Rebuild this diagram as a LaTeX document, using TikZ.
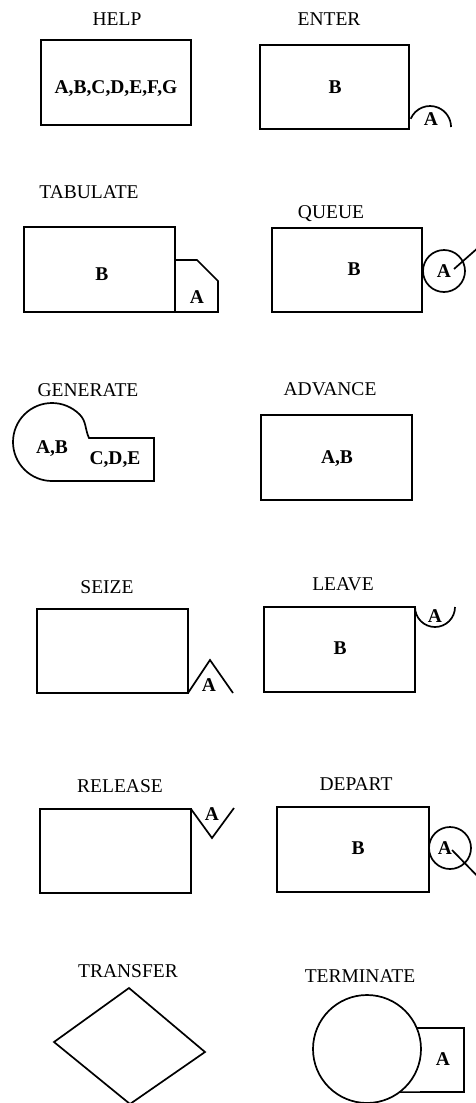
\documentclass[tikz,border=0pt]{standalone}
\usepackage{fontspec}
\setmainfont{Liberation Serif}
\begin{document}
\begin{tikzpicture}[x=1pt,y=1pt,
  lbl/.style={font=\fontsize{19.5}{21}\selectfont, inner sep=0pt, text height=12pt, text depth=0pt},
  txt/.style={font=\bfseries\fontsize{19.5}{21}\selectfont, inner sep=0pt, text height=12pt, text depth=0pt},
  blk/.style={draw, line width=1.7pt, rectangle, inner sep=0pt, outer sep=0pt},
  ring/.style={draw, line width=1.7pt, circle, inner sep=0pt, outer sep=0pt},
  ln/.style={line width=1.7pt, line join=miter}]
\useasboundingbox (0,0) rectangle (476,-1103);

% HELP
\node[lbl] (helpL) at (117,-19) {HELP};
\node[blk, minimum width=150pt, minimum height=85pt] (help) at (116,-82.5) {};
\node[txt] (helpT) at (116,-87) {A,B,C,D,E,F,G};

% ENTER
\node[lbl] (enterL) at (329,-19) {ENTER};
\node[blk, minimum width=149pt, minimum height=84pt] (enter) at (334.5,-87) {};
\node[txt] (enterT) at (335,-87) {B};
\coordinate (enterArc) at (410.7,-118.8);
\draw[ln] (enterArc) arc[start angle=157, end angle=0, radius=21];
\node[txt] (enterA) at (431,-119) {A};

% TABULATE
\node[lbl] (tabL) at (89,-192) {TABULATE};
\node[blk, minimum width=151pt, minimum height=85pt] (tab) at (99.5,-269.5) {};
\node[txt] (tabT) at (102,-274) {B};
\draw[ln] (175,-260) -- (197,-260) -- (218,-281) -- (218,-312) -- (175,-312);
\node[txt] (tabA) at (197,-297) {A};

% QUEUE
\node[lbl] (queueL) at (331,-212) {QUEUE};
\node[blk, minimum width=150pt, minimum height=84pt] (queue) at (347,-270) {};
\node[txt] (queueT) at (354,-269) {B};
\node[ring, minimum size=42pt] (queueC) at (444,-271) {};
\node[txt] (queueA) at (444,-271) {A};
\coordinate (queueS) at (454,-269);
\coordinate (queueE) at (488,-239);
\draw[ln] (queueS) -- (queueE);

% GENERATE
\node[lbl] (genL) at (88,-390) {GENERATE};
\draw[ln] (52,-481) arc[start angle=270, end angle=45, radius=39]
  to[out=-45, in=115] (89,-438) -- (154,-438) -- (154,-481) -- cycle;
\node[txt] (genT1) at (52,-447) {A,B};
\node[txt] (genT2) at (115,-458) {C,D,E};

% ADVANCE
\node[lbl] (advL) at (330,-389) {ADVANCE};
\node[blk, minimum width=151pt, minimum height=85pt] (adv) at (336.5,-457.5) {};
\node[txt] (advT) at (337,-457) {A,B};

% SEIZE
\node[lbl] (seizeL) at (107,-587) {SEIZE};
\node[blk, minimum width=151pt, minimum height=84pt] (seize) at (112.5,-651) {};
\draw[ln] (seize.south east) -- (210,-660) -- (233,-693);
\node[txt] (seizeA) at (209,-685) {A};

% LEAVE
\node[lbl] (leaveL) at (343,-584) {LEAVE};
\node[blk, minimum width=151pt, minimum height=85pt] (leave) at (339.5,-649.5) {};
\node[txt] (leaveT) at (340,-648) {B};
\draw[ln] (leave.north east) arc[start angle=180, end angle=360, radius=20];
\node[txt] (leaveA) at (435,-616) {A};

% RELEASE
\node[lbl] (relL) at (120,-786) {RELEASE};
\node[blk, minimum width=151pt, minimum height=84pt] (rel) at (115.5,-851) {};
\draw[ln] (rel.north east) -- (212,-838) -- (234,-808);
\node[txt] (relA) at (212,-814) {A};

% DEPART
\node[lbl] (depL) at (356,-784) {DEPART};
\node[blk, minimum width=152pt, minimum height=85pt] (dep) at (353,-849.5) {};
\node[txt] (depT) at (358,-848) {B};
\node[ring, minimum size=42pt] (depC) at (450,-848) {};
\node[txt] (depA) at (445,-848) {A};
\coordinate (depS) at (452,-850);
\coordinate (depE) at (488,-887);
\draw[ln] (depS) -- (depE);

% TRANSFER
\node[lbl] (trL) at (128,-971) {TRANSFER};
\draw[ln] (129,-988) -- (205,-1052) -- (130,-1104) -- (54,-1042) -- cycle;

% TERMINATE
\node[lbl] (termL) at (360,-976) {TERMINATE};
\node[ring, minimum size=108pt] (term) at (367,-1049) {};
\draw[ln] (term.23) -- (464,-1028) -- (464,-1092) -- (term.-53);
\node[txt] (termA) at (443,-1059) {A};
\end{tikzpicture}
\end{document}
